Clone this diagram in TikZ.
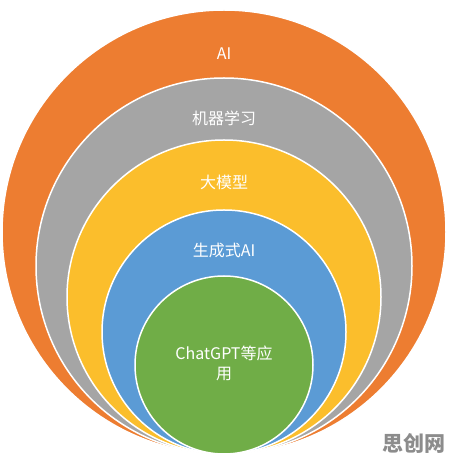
\documentclass[tikz,border=0pt]{standalone}
\usepackage{fontspec}
\newfontfamily\cjk{Noto Sans CJK SC}
\definecolor{ringorange}{HTML}{ED7D31}
\definecolor{ringgray}{HTML}{A5A5A5}
\definecolor{ringyellow}{HTML}{FBBE2C}
\definecolor{ringblue}{HTML}{5B9BD5}
\definecolor{ringgreen}{HTML}{70AD47}
\tikzset{
  ring/.style={circle,draw=white,line width=1.5pt,inner sep=0pt,outer sep=0pt},
  lbl/.style={text=white,font=\cjk\fontsize{16pt}{20pt}\selectfont,align=center}
}

\begin{document}
\begin{tikzpicture}[x=1pt,y=1pt]
    % Canvas
    \useasboundingbox (0,0) rectangle (450,463);
    \def\cx{224}
    \def\base{9}

    % Nested circles, all touching the bottom
    \node[ring,fill=ringorange,minimum size=444pt] (ai) at (\cx,\base+222) {};
    \node[ring,fill=ringgray,minimum size=376pt] (ml) at (\cx,\base+188) {};
    \node[ring,fill=ringyellow,minimum size=314pt] (llm) at (\cx,\base+157) {};
    \node[ring,fill=ringblue,minimum size=244pt] (genai) at (\cx,\base+122) {};
    \node[ring,fill=ringgreen,minimum size=178pt] (apps) at (\cx,\base+89) {};

    % Labels
    \node[lbl] (ailbl) at ([yshift=-44pt]ai.north) {AI};
    \node[lbl] (mllbl) at ([yshift=-40pt]ml.north) {机器学习};
    \node[lbl] (llmlbl) at ([yshift=-42pt]llm.north) {大模型};
    \node[lbl] (genailbl) at ([yshift=-40pt]genai.north) {生成式AI};
    \node[lbl] (appslbl) at ([yshift=2pt]apps.center) {ChatGPT等应\\用};

    % Watermark
    \node[text=black!45,font=\cjk\bfseries\fontsize{21pt}{21pt}\selectfont] (mark) at (414,20) {思创网};
\end{tikzpicture}
\end{document}
